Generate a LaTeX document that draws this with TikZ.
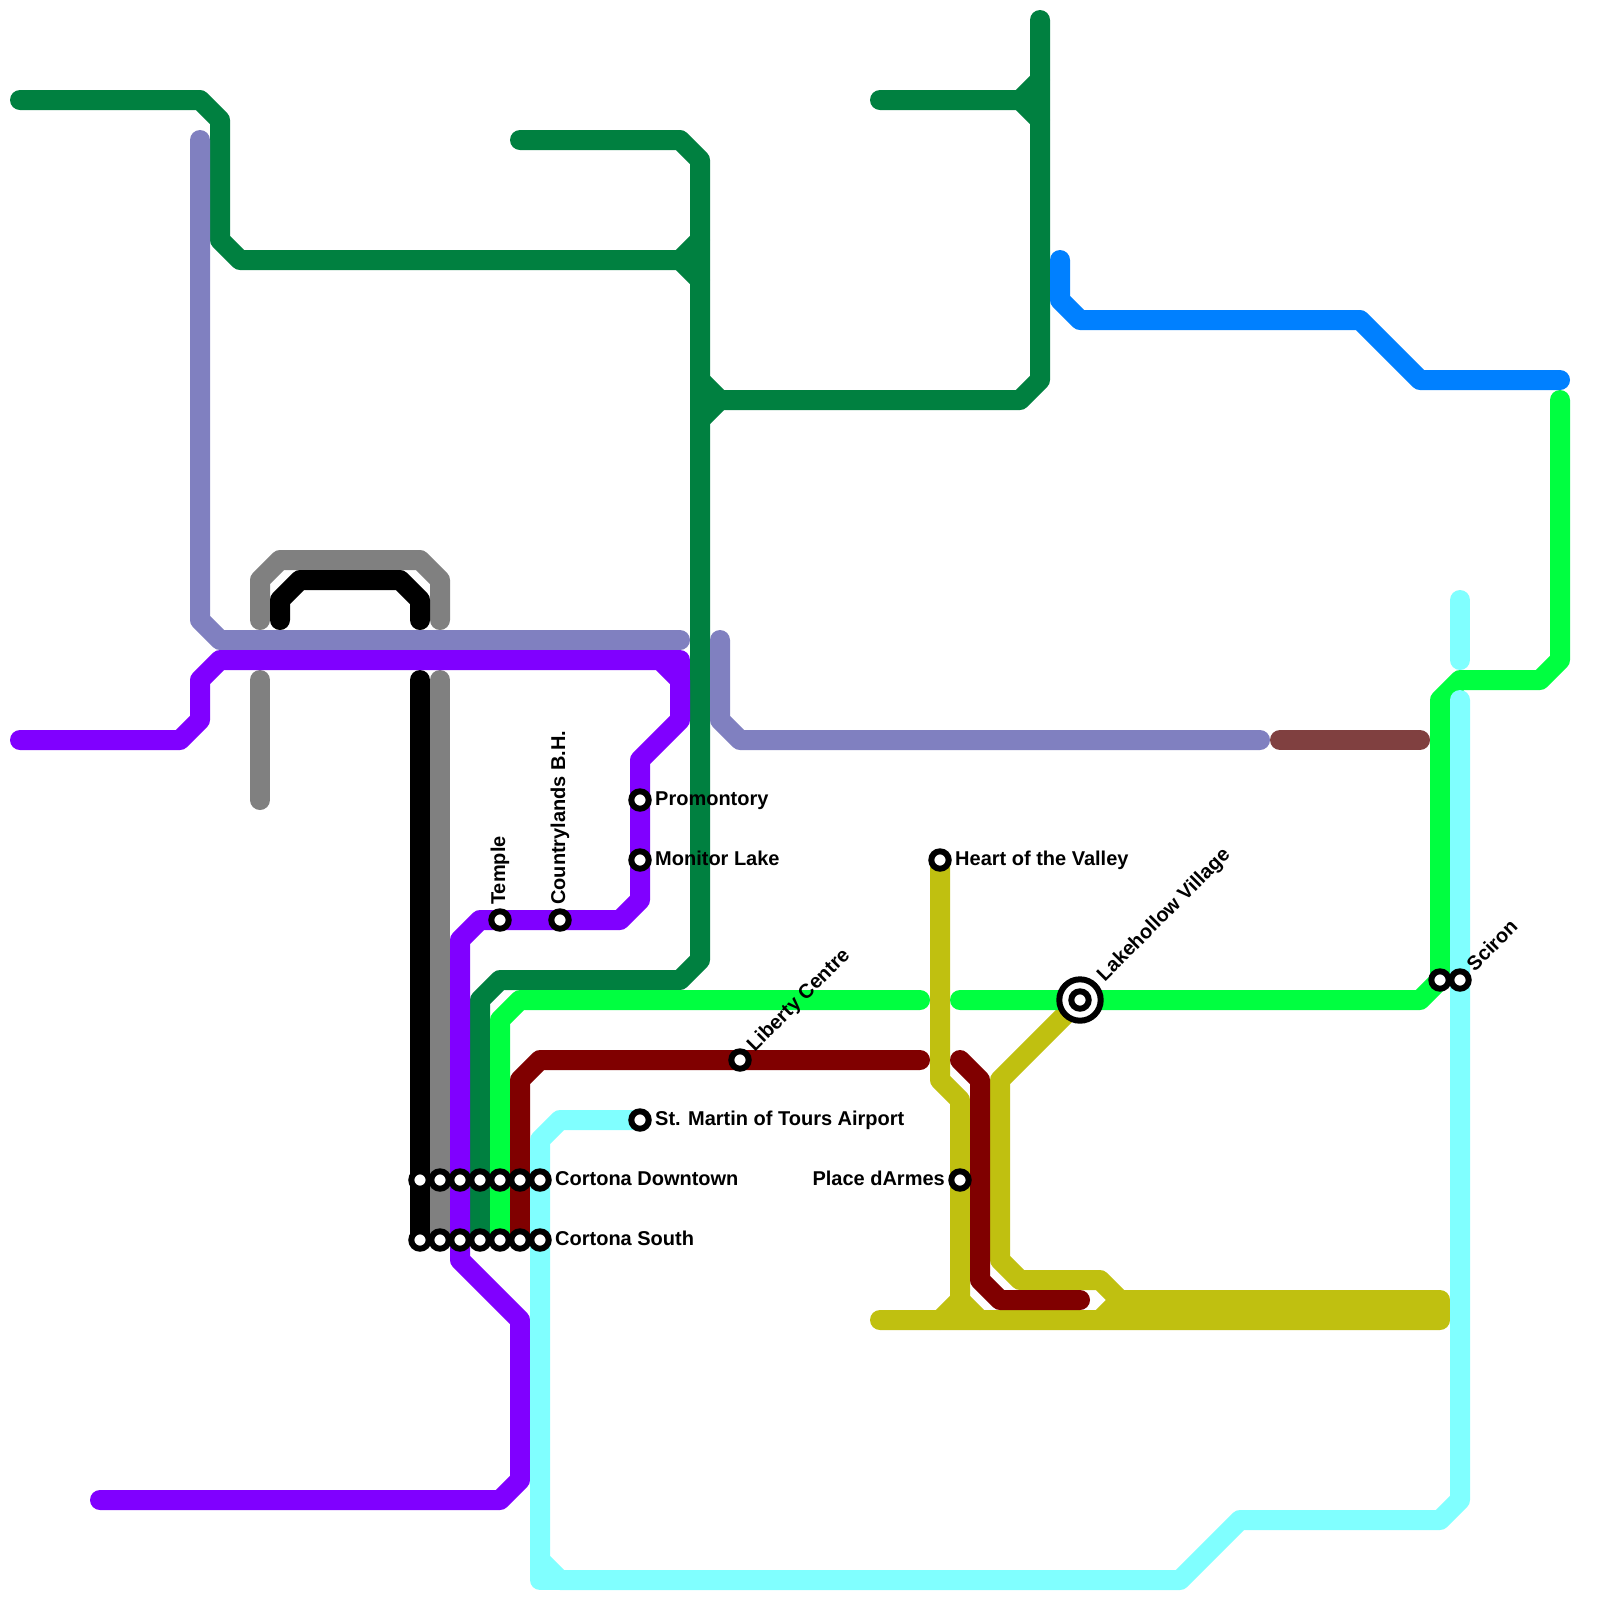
\documentclass[tikz,border=0pt]{standalone}
\usepackage{fontspec}
\setmainfont{Liberation Sans}
\definecolor{forestline}{RGB}{0, 128, 64}
\definecolor{slateline}{RGB}{128, 128, 192}
\definecolor{violetline}{RGB}{128, 0, 255}
\definecolor{limeline}{RGB}{0, 255, 64}
\definecolor{cyanline}{RGB}{128, 255, 255}
\definecolor{maroonline}{RGB}{128, 0, 0}
\definecolor{oliveline}{RGB}{192, 192, 16}
\definecolor{blueline}{RGB}{0, 128, 255}
\definecolor{greyline}{RGB}{128, 128, 128}
\definecolor{brownline}{RGB}{128, 64, 64}
\usetikzlibrary{positioning}

\begin{document}
\begin{tikzpicture}[
    x=0.25cm, y=-0.25cm,
    metro/.style={line width=0.25cm, line cap=round, line join=round},
    station/.style={draw=black, fill=white, circle, line width=0.075cm, minimum size=0.2175cm, inner sep=0pt},
    interchange/.style={draw=black, fill=white, circle, line width=0.075cm, minimum size=0.5175cm, inner sep=0pt},
    stationname/.style={font=\fontsize{7.11pt}{8pt}\selectfont\bfseries, inner sep=0pt, outer sep=0pt, text height=0.1875cm, text depth=0.0625cm}
]
\useasboundingbox (0,0) rectangle (80,80);

% Dark green
\draw[metro, forestline] (1,5) -- (10,5) -- (11,6) -- (11,12) -- (12,13) -- (34,13) -- (35,12);
\draw[metro, forestline] (34,13) -- (35,14);
\draw[metro, forestline] (26,7) -- (34,7) -- (35,8) -- (35,48) -- (34,49) -- (25,49) -- (24,50) -- (24,62);
\draw[metro, forestline] (44,5) -- (51,5) -- (52,4);
\draw[metro, forestline] (51,5) -- (52,6);
\draw[metro, forestline] (52,1) -- (52,19) -- (51,20) -- (36,20) -- (35,19);
\draw[metro, forestline] (36,20) -- (35,21);

% Slate and brown
\draw[metro, slateline] (10,7) -- (10,31) -- (11,32) -- (34,32);
\draw[metro, slateline] (36,32) -- (36,36) -- (37,37) -- (63,37);
\draw[metro, brownline] (64,37) -- (71,37);

% Grey and black
\draw[metro, greyline] (13,31) -- (13,29) -- (14,28) -- (21,28) -- (22,29) -- (22,31);
\draw[metro, greyline] (13,34) -- (13,40);
\draw[metro, greyline] (22,34) -- (22,62);
\draw[metro, black] (14,31) -- (14,30) -- (15,29) -- (20,29) -- (21,30) -- (21,31);
\draw[metro, black] (21,34) -- (21,62);

% Violet
\draw[metro, violetline] (1,37) -- (9,37) -- (10,36) -- (10,34) -- (11,33) -- (33,33) -- (34,34) -- (34,36) -- (32,38) -- (32,45) -- (31,46) -- (24,46) -- (23,47) -- (23,63) -- (26,66) -- (26,74) -- (25,75) -- (5,75);
\draw[metro, violetline] (33,33) -- (34,33) -- (34,34);

% Olive
\draw[metro, oliveline] (47,43) -- (47,54) -- (48,55) -- (48,65) -- (47,66);
\draw[metro, oliveline] (48,65) -- (49,66);
\draw[metro, oliveline] (54,50) -- (50,54) -- (50,63) -- (51,64) -- (55,64) -- (56,65) -- (72,65) -- (72,66) -- (44,66);
\draw[metro, oliveline] (56,65) -- (55,66);

% Bright green
\draw[metro, limeline] (25,62) -- (25,51) -- (26,50) -- (46,50);
\draw[metro, limeline] (48,50) -- (71,50) -- (72,49) -- (72,35) -- (73,34) -- (77,34) -- (78,33) -- (78,20);

% Maroon
\draw[metro, maroonline] (26,62) -- (26,54) -- (27,53) -- (46,53);
\draw[metro, maroonline] (48,53) -- (49,54) -- (49,64) -- (50,65) -- (54,65);

% Cyan
\draw[metro, cyanline] (32,56) -- (28,56) -- (27,57) -- (27,78) -- (28,79) -- (59,79) -- (62,76) -- (72,76) -- (73,75) -- (73,35);
\draw[metro, cyanline] (27,78) -- (27,79) -- (28,79);
\draw[metro, cyanline] (73,30) -- (73,33);

% Blue
\draw[metro, blueline] (53,13) -- (53,15) -- (54,16) -- (68,16) -- (71,19) -- (78,19);

% Stations
\foreach \x in {21,...,27} {
    \node[station] (down\x) at (\x,59) {};
    \node[station] (south\x) at (\x,62) {};
}
\node[station] (airport) at (32,56) {};
\node[station] (promontory) at (32,40) {};
\node[station] (monitor) at (32,43) {};
\node[station] (temple) at (25,46) {};
\node[station] (countrylands) at (28,46) {};
\node[station] (liberty) at (37,53) {};
\node[station] (heart) at (47,43) {};
\node[station] (armes) at (48,59) {};
\node[interchange] (lakering) at (54,50) {};
\node[station] (lakehollow) at (54,50) {};
\node[station] (scironleft) at (72,49) {};
\node[station] (sciron) at (73,49) {};

% Labels
\node[stationname, right=0.19cm of down27.center] (downname) {Cortona Downtown};
\node[stationname, right=0.19cm of south27.center] (southname) {Cortona South};
\node[stationname, right=0.19cm of airport.center] (airportname) {St. Martin of Tours Airport};
\node[stationname, right=0.19cm of promontory.center] (promontoryname) {Promontory};
\node[stationname, right=0.19cm of monitor.center] (monitorname) {Monitor Lake};
\node[stationname, right=0.19cm of heart.center] (heartname) {Heart of the Valley};
\node[stationname, left=0.19cm of armes.center] (armesname) {Place dArmes};
\node[stationname, rotate=90, anchor=west] (templename) at ([yshift=0.19cm]temple.center) {Temple};
\node[stationname, rotate=90, anchor=west] (countrylandsname) at ([yshift=0.19cm]countrylands.center) {Countrylands B.H.};
\node[stationname, rotate=45, anchor=west] (libertyname) at ([shift={(45:0.2cm)}]liberty.center) {Liberty Centre};
\node[stationname, rotate=45, anchor=west] (lakehollowname) at ([shift={(45:0.375cm)}]lakehollow.center) {Lakehollow Village};
\node[stationname, rotate=45, anchor=west] (scironname) at ([shift={(45:0.2cm)}]sciron.center) {Sciron};

\end{tikzpicture}
\end{document}
